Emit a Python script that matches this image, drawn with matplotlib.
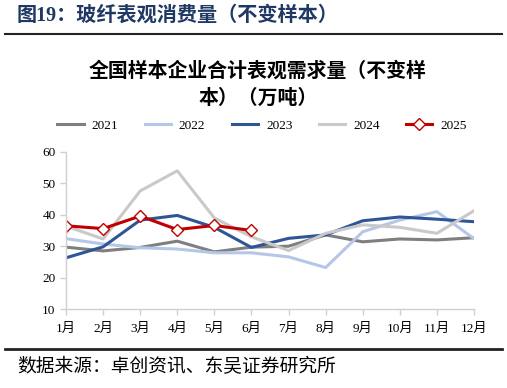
import matplotlib
matplotlib.use('Agg')
import matplotlib.pyplot as plt
from matplotlib.lines import Line2D

plt.rcParams['font.family'] = ['Liberation Serif', 'Noto Sans CJK SC']

months = ['1月', '2月', '3月', '4月', '5月', '6月', '7月', '8月', '9月', '10月', '11月', '12月']
y2021 = [29.7, 28.5, 29.6, 31.6, 28.2, 29.7, 30.0, 33.6, 31.4, 32.3, 32.0, 32.7]
y2022 = [32.4, 30.7, 29.5, 29.1, 27.9, 27.9, 26.6, 23.2, 34.6, 38.3, 41.0, 32.4]
y2023 = [26.3, 29.8, 38.3, 39.8, 36.0, 29.6, 32.5, 33.6, 38.1, 39.3, 38.6, 37.8]
y2024 = [36.4, 32.3, 47.6, 54.0, 39.0, 33.0, 28.6, 34.1, 36.8, 36.0, 34.1, 41.3]
y2025 = [36.5, 35.6, 39.6, 35.3, 36.6, 35.0]

W, H = 507, 388
fig = plt.figure(figsize=(W / 100, H / 100), dpi=100)
ax = fig.add_axes([66 / W, 1 - 309 / H, (474 - 66) / W, (309 - 152) / H])

x = list(range(12))
ax.plot(x, y2021, color='#7F7F7F', lw=2.2, label='2021')
ax.plot(x, y2022, color='#B4C7E7', lw=2.2, label='2022')
ax.plot(x, y2023, color='#2F5597', lw=2.2, label='2023')
ax.plot(x, y2024, color='#C9C9C9', lw=2.2, label='2024')
ax.plot(x[:len(y2025)], y2025, color='#C00000', lw=2.2, marker='D', ms=6.5,
        mfc='white', mec='#C00000', mew=1.0, label='2025')

ax.set_xlim(0, 11)
ax.set_ylim(10, 60)
ax.set_yticks([10, 20, 30, 40, 50, 60])
ax.set_xticks(x)
ax.set_xticklabels(months, family=['Liberation Serif', 'Noto Sans CJK SC'])
for s in ['top', 'right']:
    ax.spines[s].set_visible(False)
for s in ['left', 'bottom']:
    ax.spines[s].set_color('#D0D0D0')
    ax.spines[s].set_linewidth(1.0)
ax.tick_params(axis='both', colors='#D0D0D0', labelcolor='black', labelsize=9.5, length=4, width=1)
ax.tick_params(axis='x', pad=6)

leg = fig.legend(handles=ax.get_lines(), loc='center', bbox_to_anchor=(262 / W, 1 - 126 / H),
                 ncol=5, frameon=False, fontsize=9.5, handlelength=2.0, columnspacing=2.0,
                 handletextpad=0.6)

# titles
fig.text(17 / W, 1 - 16 / H, '图19：玻纤表观消费量（不变样本）', fontsize=14.5, fontweight='bold',
         color='#1F3864', va='center', ha='left', family=['Liberation Serif', 'Noto Sans CJK SC'])
fig.add_artist(Line2D([5 / W, 502 / W], [1 - 34 / H, 1 - 34 / H], color='#222222', lw=1.5))
fig.text(258 / W, 1 - 70 / H, '全国样本企业合计表观需求量（不变样', fontsize=14.3, fontweight='bold',
         ha='center', va='center', family=['Noto Sans CJK SC'])
fig.text(258 / W, 1 - 97 / H, '本）（万吨）', fontsize=14.3, fontweight='bold',
         ha='center', va='center', family=['Noto Sans CJK SC'])
fig.add_artist(Line2D([5 / W, 502 / W], [1 - 349 / H, 1 - 349 / H], color='#222222', lw=2))
fig.text(17 / W, 1 - 367 / H, '数据来源：卓创资讯、东吴证券研究所', fontsize=13.5,
         ha='left', va='center', family=['Noto Sans CJK SC'])

fig.savefig('out.png', dpi=100)
